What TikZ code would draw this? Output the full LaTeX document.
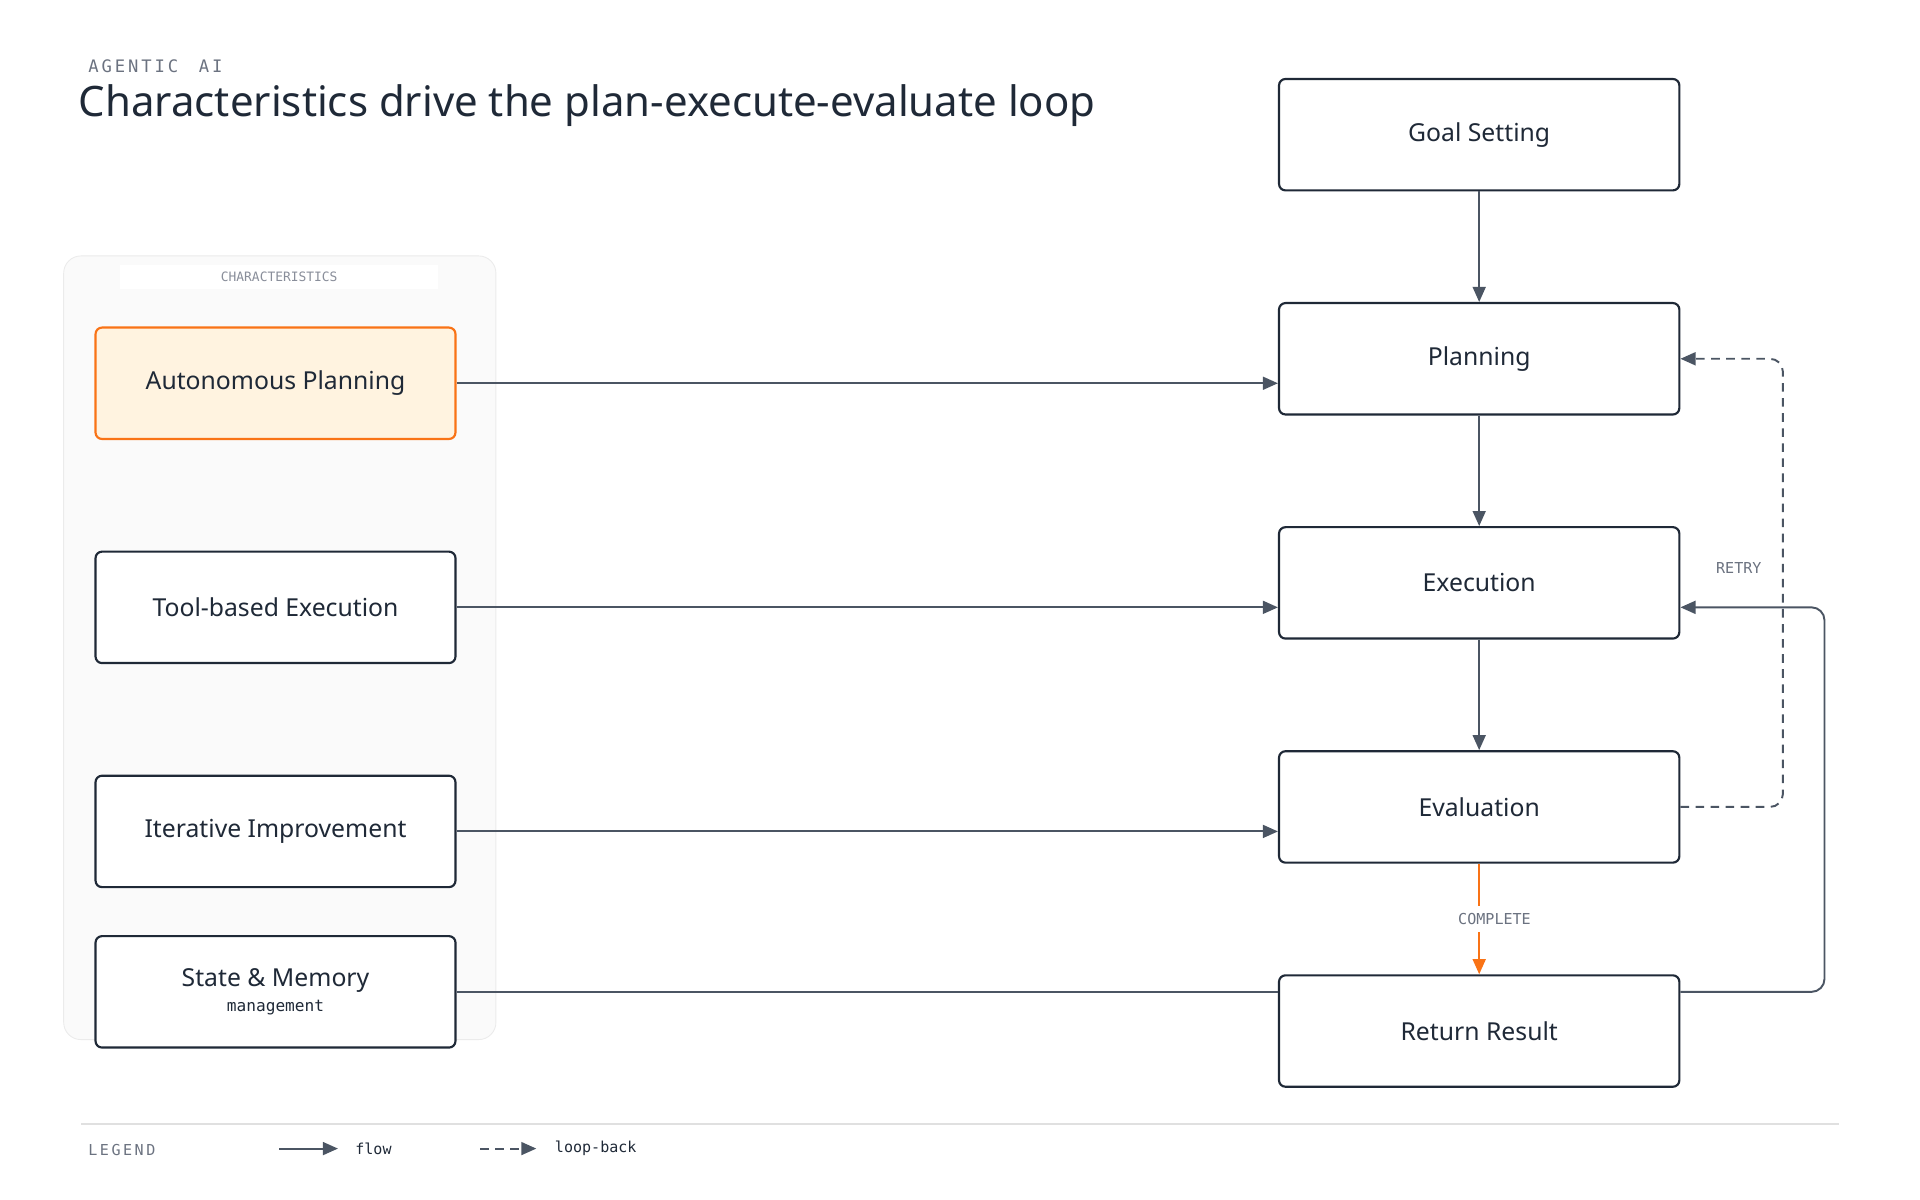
\documentclass[tikz,border=0pt]{standalone}
\usepackage{fontspec}
\setmainfont{Noto Sans}
\newfontfamily\monofont{DejaVu Sans Mono}
\usetikzlibrary{arrows.meta, positioning}
\definecolor{ink}{HTML}{1F2937}
\definecolor{edge}{HTML}{4B5563}
\definecolor{muted}{HTML}{6B7280}
\definecolor{accent}{HTML}{F97316}
\definecolor{accentbg}{HTML}{FFF3E0}
\tikzset{
    stage/.style = {draw=ink, fill=white, rounded corners=3pt, line width=1pt, minimum width=6.54cm, minimum height=1.82cm, font=\fontsize{11.5}{13}\selectfont\bfseries, text=ink},
    trait/.style = {stage, minimum width=5.88cm},
    tag/.style = {font=\monofont\fontsize{7}{8}\selectfont, text=muted},
    flow/.style = {draw=edge, line width=0.9pt, -{Triangle[length=7pt, width=6pt]}},
    back/.style = {flow, dashed, dash pattern=on 4pt off 3pt}
}
\begin{document}
\begin{tikzpicture}[x=0.02cm, y=-0.02cm]
        \useasboundingbox (0, 0) rectangle (1568, 980);
        \node[tag, anchor=west, font=\monofont\fontsize{8}{9}\selectfont] (kicker) at (66, 54) {A\,G\,E\,N\,T\,I\,C\ \ A\,I};
        \node[anchor=west, inner sep=0pt, text=ink, font=\fontsize{19.5}{22}\selectfont\bfseries] (title) at (64, 86) {Characteristics drive the plan-execute-evaluate loop};
        % characteristics panel
        \path[draw=black!8, fill=black!2, rounded corners=8pt] (52, 209) rectangle (405, 849);
        \node[tag, fill=white, minimum width=5.2cm, font=\monofont\fontsize{6}{7}\selectfont, text=muted!80] (group) at (228, 226) {CHARACTERISTICS};
        \node[trait, draw=accent, fill=accentbg] (auto) at (225, 313) {Autonomous Planning};
        \node[trait] (tool) at (225, 496) {Tool-based Execution};
        \node[trait] (iter) at (225, 679) {Iterative Improvement};
        \node[trait, align=center] (mem) at (225, 810) {State \& Memory\\[-1pt]{\monofont\mdseries\fontsize{7.5}{9}\selectfont management}};
        % loop
        \node[stage] (goal) at (1208, 110) {Goal Setting};
        \node[stage] (plan) at (1208, 293) {Planning};
        \node[stage] (exec) at (1208, 476) {Execution};
        \node[stage] (eval) at (1208, 659) {Evaluation};
        \node[stage] (ret) at (1208, 842) {Return Result};
        \coordinate (retry) at (1456, 293);
        \coordinate (loop) at (1490, 496);
        \path[flow] (goal) -- (plan);
        \path[flow] (plan) -- (exec);
        \path[flow] (exec) -- (eval);
        \path[flow, draw=accent, -{Triangle[length=7pt, width=6pt, fill=accent]}] (eval) -- node[tag, fill=white, xshift=0.25cm] {COMPLETE} (ret);
        \path[flow] (auto.east) -- (auto.east -| plan.west);
        \path[flow] (tool.east) -- (tool.east -| exec.west);
        \path[flow] (iter.east) -- (iter.east -| eval.west);
        \path[draw=edge, line width=0.9pt] (mem.east) -- (mem.east -| ret.west);
        \path[flow, rounded corners=6pt] (ret.east |- mem.east) -- (mem.east -| loop) -- (loop) -- (exec.east |- loop);
        \path[back, rounded corners=6pt] (eval.east) -- (eval.east -| retry) -- (retry) -- (plan.east);
        \node[tag] (retrylbl) at (1420, 464) {RETRY};
        % legend
        \path[draw=black!12, line width=0.6pt] (66, 918) -- (1502, 918);
        \node[tag, anchor=west] (legend) at (66, 939) {L\,E\,G\,E\,N\,D};
        \coordinate (fa) at (228, 938);
        \coordinate (fb) at (276, 938);
        \coordinate (la) at (392, 938);
        \coordinate (lb) at (438, 938);
        \path[flow] (fa) -- (fb);
        \path[back] (la) -- (lb);
        \node[tag, anchor=west, text=ink] (flowlbl) at (284, 938) {flow};
        \node[tag, anchor=west, text=ink] (backlbl) at (447, 938) {loop-back};
    \end{tikzpicture}
\end{document}
